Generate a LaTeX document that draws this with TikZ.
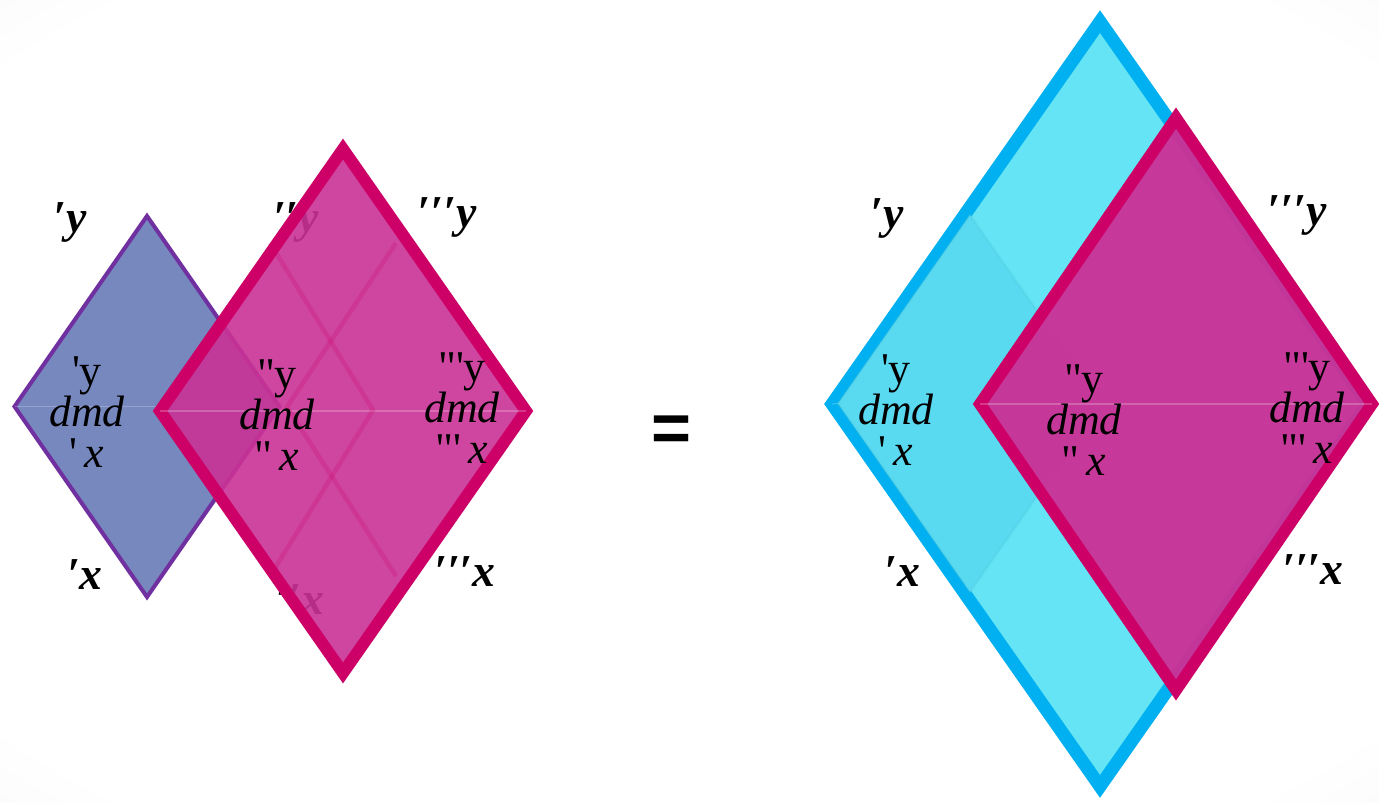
\documentclass[tikz,border=0pt]{standalone}
\usepackage{fontspec}
\setmainfont{Liberation Serif}[Ligatures=TeXOff]
\newfontfamily\eqfont{Liberation Sans}
\usetikzlibrary{shapes.geometric}
\definecolor{purpleedge}{RGB}{112,48,160}
\definecolor{bluefill}{RGB}{119,136,191}
\definecolor{pinkedge}{RGB}{204,0,102}
\definecolor{pinkfill}{RGB}{202,50,150}
\definecolor{cyanedge}{RGB}{0,176,240}
\definecolor{cyanfill}{RGB}{100,228,244}
\definecolor{cyandeep}{RGB}{89,218,240}
\pgfdeclareradialshading{vignette}{\pgfpoint{0bp}{0bp}}{color(0bp)=(white); color(32bp)=(white); color(50bp)=(black!6); color(72bp)=(black!9)}
\tikzset{
   face/.style={diamond, inner sep=0pt, outer sep=0pt, line join=miter},
   blue face/.style={face, draw=purpleedge, fill=bluefill, line width=2.3pt},
   pink face/.style={face, draw=pinkedge, fill=pinkfill, fill opacity=0.9, line width=6.8pt},
   cyan face/.style={face, draw=cyanedge, fill=cyanfill, line width=7.4pt},
   inner face/.style={face, draw=cyandeep!90!black, draw opacity=0.2, fill=cyandeep, line width=1.5pt},
   mid line/.style={draw=white, opacity=0.22, line width=0.6pt},
   ghost line/.style={draw=pinkedge, opacity=0.22, line width=2.6pt},
   corner label/.style={font=\fontsize{26}{26}\selectfont\bfseries\itshape, inner sep=0pt},
   cell label/.style={align=center, inner sep=0pt, font=\fontsize{25}{23.5}\selectfont}
}
\newcommand{\cellbox}[2]{#1y\\\textit{dmd}\\#2\,\textit{x}}

\begin{document}
\begin{tikzpicture}[x=0.02cm, y=-0.02cm]

  \useasboundingbox (0,0) rectangle (1379,802);
  \shade[shading=vignette] (0,0) rectangle (1379,802);

  %% left: two cells
  \node[blue face, minimum width=5.30cm, minimum height=7.62cm] at (147,406.5) (blue cell) {};
  \draw[mid line] (blue cell.west) -- (blue cell.east);

  \node[corner label] at (296,222) (ghost y) {′′y};
  \node[corner label] at (300,600) (ghost x) {′′x};

  \node[pink face, minimum width=7.32cm, minimum height=10.48cm] at (343,411) (pink cell) {};
  \draw[mid line] (pink cell.west) -- (pink cell.east);

  \coordinate (g1) at (270,243);
  \coordinate (g2) at (373,410);
  \coordinate (g3) at (270,576);
  \coordinate (g4) at (396,243);
  \coordinate (g5) at (287,407);
  \coordinate (g6) at (396,576);
  \draw[ghost line] (g1) -- (g2) -- (g3);
  \draw[ghost line] (g4) -- (g5) -- (g6);

  \node[corner label] at (70,222)  (ly1) {′y};
  \node[corner label] at (447,217) (ly3) {′′′y};
  \node[corner label] at (85,575)  (lx1) {′x};
  \node[corner label] at (465,572) (lx3) {′′′x};

  \node[cell label] at (87,412)  (lc1) {\cellbox{'}{'}};
  \node[cell label] at (277,415) (lc2) {\cellbox{"}{"}};
  \node[cell label] at (462,408) (lc3) {\cellbox{"'}{"'}};

  \node[font=\eqfont\fontsize{39}{39}\selectfont\bfseries, inner sep=0pt] at (671,434) (eq) {=};

  %% right: merged cell
  \node[cyan face, minimum width=10.72cm, minimum height=15.30cm] at (1100,404) (cyan cell) {};
  \node[inner face, minimum width=5.28cm, minimum height=7.54cm] at (970,403.5) (old cell) {};
  \draw[mid line] (cyan cell.west) -- (old cell.west);

  \node[pink face, fill opacity=0.96, minimum width=7.84cm, minimum height=11.44cm] at (1176,404) (new cell) {};
  \draw[mid line] (new cell.west) -- (new cell.east);

  \node[corner label] at (887,218)  (ry1) {′y};
  \node[corner label] at (1297,215) (ry3) {′′′y};
  \node[corner label] at (902,572)  (rx1) {′x};
  \node[corner label] at (1313,570) (rx3) {′′′x};

  \node[cell label] at (896,410)  (rc1) {\cellbox{'}{'}};
  \node[cell label] at (1084,420) (rc2) {\cellbox{"}{"}};
  \node[cell label] at (1307,408) (rc3) {\cellbox{"'}{"'}};

\end{tikzpicture}
\end{document}
